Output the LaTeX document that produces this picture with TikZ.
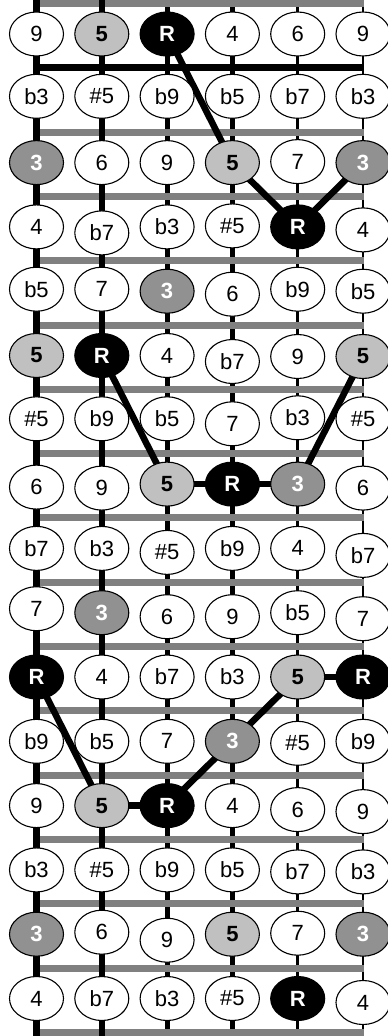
\documentclass[tikz,border=0pt]{standalone}
\usepackage{fontspec}
\setmainfont{Liberation Sans}
\usetikzlibrary{shapes.geometric}
\definecolor{fretgray}{RGB}{128,128,128}
\definecolor{fifthgray}{RGB}{192,192,192}
\definecolor{thirdgray}{RGB}{145,145,145}
\pgfdeclarelayer{board}
\pgfdeclarelayer{links}
\pgfsetlayers{board,links,main}

\begin{document}
\begin{tikzpicture}[x=1pt, y=-1pt,
    tone/.style={ellipse, draw, line width=1.1pt, minimum width=54pt, minimum height=44pt,
                 inner sep=0pt, font=\fontsize{22}{24}\selectfont},
    tone-p/.style={tone, fill=white},
    tone-f/.style={tone, fill=fifthgray, font=\fontsize{22}{24}\selectfont\bfseries},
    tone-t/.style={tone, fill=thirdgray, text=white, font=\fontsize{22}{24}\selectfont\bfseries},
    tone-r/.style={tone, fill=black, text=white, font=\fontsize{22}{24}\selectfont\bfseries},
    shape line/.style={line width=6.5pt}]
  \useasboundingbox (0,0) rectangle (388,1036);
  % ================================================================== fretboard
  \begin{pgfonlayer}{board}
    \foreach \s/\w in {3/5, 4/5, 5/2.5, 6/2}
      \draw[line width=\w pt] ({36.5+65.3*(\s-1)},0) -- ({36.5+65.3*(\s-1)},1036);
    \foreach \k in {0,2,3,...,16}
      \draw[fretgray, line width=7pt] (40,{3.5+64.3*\k}) -- (364,{3.5+64.3*\k});
    \foreach \s in {1,2}
      \draw[line width=6.5pt] ({36.5+65.3*(\s-1)},0) -- ({36.5+65.3*(\s-1)},1036);
    \draw[line width=7pt] (34,67.8) -- (364,67.8);
  \end{pgfonlayer}
  % ================================================================== notes (label/kind/shift)
  \foreach \row [count=\r] in {
      {9/p/0, 5/f/0, R/r/0, 4/p/0, 6/p/0, 9/p/0},
      {b3/p/-2, \#5/p/-2, b9/p/-2, b5/p/-2, b7/p/-2, b3/p/-2},
      {3/t/0, 6/p/0, 9/p/0, 5/f/0, 7/p/-1, 3/t/0},
      {4/p/0, b7/p/6, b3/p/0, \#5/p/-1, R/r/0, 4/p/3},
      {b5/p/-2, 7/p/-2, 3/t/0, 6/p/3, b9/p/-2, b5/p/0},
      {5/f/0, R/r/0, 4/p/0, b7/p/6, 9/p/1, 5/f/1},
      {\#5/p/-1, b9/p/-1, b5/p/-1, 7/p/4, b3/p/-2, \#5/p/-1},
      {6/p/3, 9/p/4, 5/f/0, R/r/0, 3/t/0, 6/p/4},
      {b7/p/0, b3/p/0, \#5/p/4, b9/p/0, 4/p/0, b7/p/7},
      {7/p/-4, 3/t/0, 6/p/4, 9/p/4, b5/p/0, 7/p/6},
      {R/r/0, 4/p/0, b7/p/0, b3/p/0, 5/f/0, R/r/0},
      {b9/p/0, b5/p/0, 7/p/0, 3/t/0, \#5/p/2, b9/p/0},
      {9/p/0, 5/f/0, R/r/0, 4/p/0, 6/p/4, 9/p/6},
      {b3/p/0, \#5/p/0, b9/p/0, b5/p/0, b7/p/2, b3/p/2},
      {3/t/0, 6/p/-2, 9/p/6, 5/f/0, 7/p/-1, 3/t/0},
      {4/p/0, b7/p/0, b3/p/0, \#5/p/0, R/r/0, 4/p/4}}
    \foreach \lab/\kind/\dy [count=\c] in \row
      \node[tone-\kind] (n-\r-\c) at ({36.5+65.3*(\c-1)},{34+64.3*(\r-1)+\dy}) {\lab};
  % ================================================================== chord shapes
  \begin{pgfonlayer}{links}
    \foreach \a/\b in {1-3/3-4, 3-4/4-5, 4-5/3-6,
                       6-2/8-3, 8-3/8-4, 8-4/8-5, 8-5/6-6,
                       11-1/13-2, 13-2/13-3, 13-3/12-4, 12-4/11-5, 11-5/11-6}
      \draw[shape line] (n-\a.center) -- (n-\b.center);
  \end{pgfonlayer}
\end{tikzpicture}
\end{document}
